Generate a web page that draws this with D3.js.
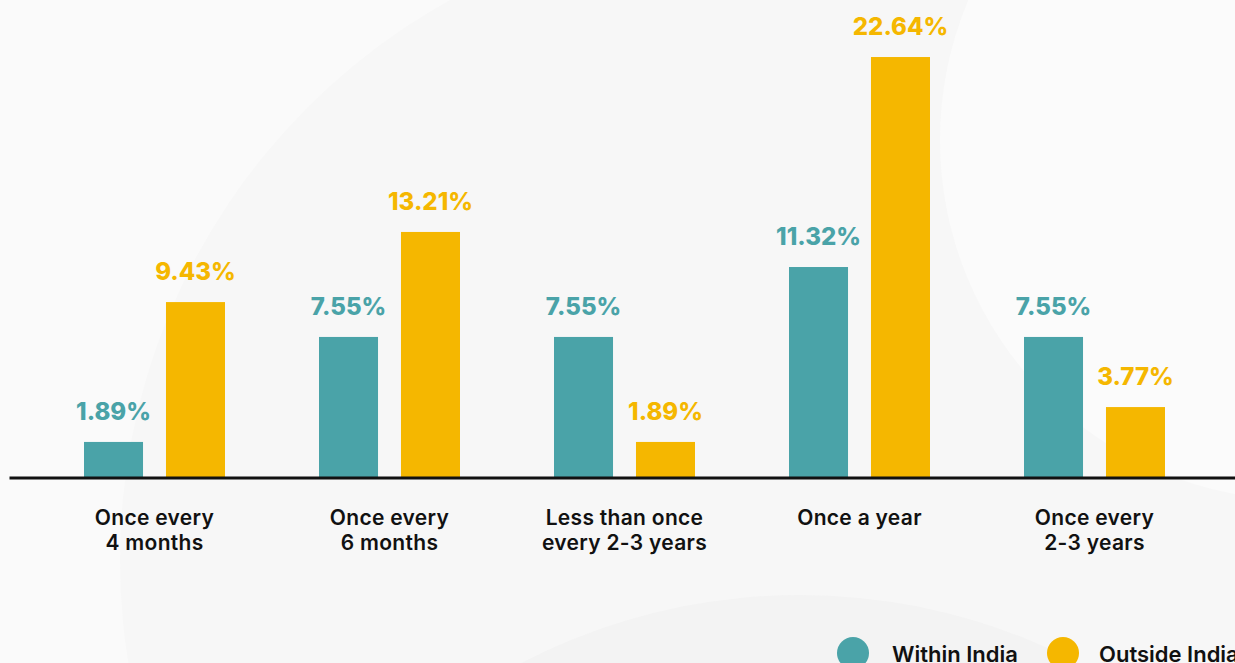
<!DOCTYPE html>
<html>
<head>
<meta charset="utf-8">
<script src="https://cdn.jsdelivr.net/npm/d3@7"></script>
<style>
  html, body { margin: 0; padding: 0; background: #fafafa; overflow: hidden; }
  svg { display: block; }
</style>
</head>
<body>
<svg id="chart" width="1235" height="663"></svg>
<script>
// Frequency categories (two-line labels)
const categories = [
  ["Once every", "4 months"],
  ["Once every", "6 months"],
  ["Less than once", "every 2-3 years"],
  ["Once a year"],
  ["Once every", "2-3 years"]
];
const seriesNames = ["Within India", "Outside India"];
const withinIndia = [1.89, 7.55, 7.55, 11.32, 7.55];
const outsideIndia = [9.43, 13.21, 1.89, 22.64, 3.77];

const colors = { "Within India": "#4aa3a8", "Outside India": "#f5b700" };

const W = 1235, H = 663;
const svg = d3.select("#chart");

// soft background discs
const bg = svg.append("g");
bg.append("rect").attr("width", W).attr("height", H).attr("fill", "#fafafa");
bg.append("circle").attr("cx", 760).attr("cy", 560).attr("r", 640).attr("fill", "#f7f7f7");
bg.append("circle").attr("cx", 800).attr("cy", 1200).attr("r", 605).attr("fill", "#f3f3f3");
bg.append("circle").attr("cx", 1300).attr("cy", 140).attr("r", 360).attr("fill", "#fbfbfb");

const baseY = 477;
const x0 = d3.scaleBand()
  .domain(d3.range(categories.length))
  .range([37, 37 + 235 * 5])
  .paddingInner(0.0)
  .paddingOuter(0);
const x1 = d3.scaleBand()
  .domain(seriesNames)
  .range([47, 188])
  .paddingInner(0.28)
  .paddingOuter(0);
const y = d3.scaleLinear().domain([0, 25]).range([baseY, baseY - 18.55 * 25]);

const rows = categories.map((c, i) => ({
  i, label: c,
  values: [
    { key: "Within India", v: withinIndia[i] },
    { key: "Outside India", v: outsideIndia[i] }
  ]
}));

const groups = svg.append("g").selectAll("g.grp")
  .data(rows).join("g")
  .attr("class", "grp")
  .attr("transform", d => `translate(${x0(d.i)},0)`);

groups.selectAll("rect")
  .data(d => d.values).join("rect")
  .attr("x", d => x1(d.key))
  .attr("y", d => y(d.v))
  .attr("width", x1.bandwidth())
  .attr("height", d => baseY - y(d.v))
  .attr("fill", d => colors[d.key]);

groups.selectAll("text.val")
  .data(d => d.values).join("text")
  .attr("class", "val")
  .attr("x", d => x1(d.key) + x1.bandwidth() / 2)
  .attr("y", d => y(d.v) - 22)
  .attr("text-anchor", "middle")
  .attr("font-family", "Inter, 'Open Sans', sans-serif")
  .attr("font-weight", 800)
  .attr("font-size", 24)
  .attr("fill", d => colors[d.key])
  .text(d => d.v.toFixed(2) + "%");

// axis baseline
const xAxis = d3.axisBottom(d3.scaleLinear().range([9, W])).ticks(0).tickSize(0).tickFormat("");
svg.append("g")
  .attr("transform", `translate(0,${baseY + 0.5})`)
  .call(xAxis)
  .call(g => g.select(".domain").attr("stroke", "#111").attr("stroke-width", 3));

// category labels
const labelX = (x1("Within India") + x1("Outside India") + x1.bandwidth()) / 2;
groups.append("text")
  .attr("x", labelX)
  .attr("y", 525)
  .attr("text-anchor", "middle")
  .attr("font-family", "Inter, 'Open Sans', sans-serif")
  .attr("font-weight", 600)
  .attr("font-size", 21)
  .attr("letter-spacing", 0.3)
  .attr("fill", "#111")
  .selectAll("tspan")
  .data(d => d.label).join("tspan")
  .attr("x", labelX)
  .attr("dy", (d, i) => i === 0 ? 0 : 25)
  .text(d => d);

// legend
const legend = svg.append("g");
const legendPos = [{ cx: 853, tx: 892 }, { cx: 1063, tx: 1099 }];
seriesNames.forEach((s, i) => {
  legend.append("circle")
    .attr("cx", legendPos[i].cx).attr("cy", 653).attr("r", 16)
    .attr("fill", colors[s]);
  legend.append("text")
    .attr("x", legendPos[i].tx).attr("y", 662)
    .attr("font-family", "Inter, 'Open Sans', sans-serif")
    .attr("font-weight", 600)
    .attr("font-size", 22)
    .attr("fill", "#111")
    .text(s);
});
</script>
</body>
</html>
